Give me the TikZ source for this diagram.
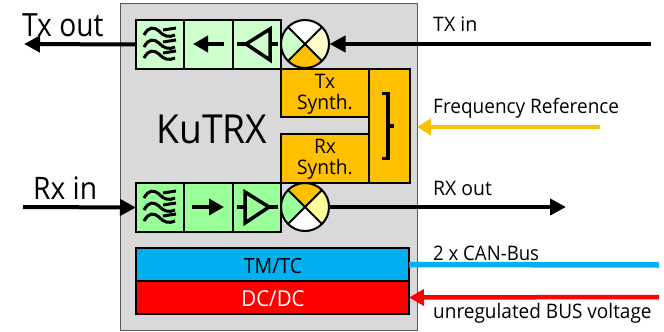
\documentclass[tikz,border=0pt]{standalone}
\usepackage{fontspec}
\setmainfont{Open Sans}
\usetikzlibrary{arrows.meta,calc}
\definecolor{lgreen}{HTML}{CCFFCC}
\definecolor{mgreen}{HTML}{99FF99}
\definecolor{synth}{HTML}{FFC000}
\definecolor{lyellow}{HTML}{FFFFCC}
\definecolor{myellow}{HTML}{FFFF99}
\definecolor{bluebus}{HTML}{00B0F0}
\definecolor{panel}{HTML}{D9D9D9}
\newcommand{\fs}[2]{\fontsize{#1}{#1}\selectfont\addfontfeature{FakeStretch=#2}}
\tikzset{
  panelbox/.style={draw=black!65,fill=panel,line width=1pt,minimum width=297pt,minimum height=327pt,inner sep=0pt},
  blockbox/.style={draw=black,line width=2pt,inner sep=0pt,outer sep=0pt,anchor=north west},
  sym/.style={line width=3.5pt,black},
  bigarrow/.style={line width=4pt,-{Triangle[length=16pt,width=16pt]}},
  lab/.style={anchor=base west,inner sep=0pt},
  cont/.style={anchor=base,inner sep=0pt},
}
\newcommand{\wavesym}[2]{%
  \foreach \dy in {-12,0,11}{
    \draw[line width=3pt] ($(#1,#2)+(-16,\dy+3)$) .. controls ($(#1,#2)+(-11,\dy-6)$) and ($(#1,#2)+(-6,\dy-5)$) .. ($(#1,#2)+(-1,\dy-1)$) .. controls ($(#1,#2)+(3,\dy+4)$) and ($(#1,#2)+(9,\dy+6)$) .. ($(#1,#2)+(15,\dy+3)$);
    \draw[line width=3pt] ($(#1,#2)+(3,\dy-2)$) -- ($(#1,#2)+(16,\dy-4)$);
  }
}
\begin{document}
\begin{tikzpicture}[x=1pt,y=-1pt]
\useasboundingbox (0,0) rectangle (664,332);
\fill[white] (0,0) rectangle (664,332);
\node[panelbox] (panel) at (269,166.5) {};

% top chain
\node[blockbox,fill=lgreen,minimum width=48pt,minimum height=49pt] (txf) at (136,20) {};
\node[blockbox,fill=lgreen,minimum width=49pt,minimum height=49pt] (txi) at (184,20) {};
\node[blockbox,fill=lgreen,minimum width=48pt,minimum height=49pt] (txa) at (233,20) {};
% bottom chain
\node[blockbox,fill=mgreen,minimum width=48pt,minimum height=49pt] (rxf) at (136,183) {};
\node[blockbox,fill=mgreen,minimum width=49pt,minimum height=49pt] (rxi) at (184,183) {};
\node[blockbox,fill=mgreen,minimum width=48pt,minimum height=49pt] (rxa) at (233,183) {};

% synth blocks
\node[blockbox,fill=synth,minimum width=88pt,minimum height=48pt] (txs) at (281,69) {};
\node[blockbox,fill=synth,minimum width=88pt,minimum height=49pt] (rxs) at (281,134) {};
\node[blockbox,fill=synth,minimum width=41pt,minimum height=114pt] (refb) at (369,69) {};
\node[cont,font=\fs{20}{0.96}] (txsa) at (325,88) {Tx};
\node[cont,font=\fs{20}{0.96}] (txsb) at (325,109) {Synth.};
\node[cont,font=\fs{20}{0.96}] (rxsa) at (325,153) {Rx};
\node[cont,font=\fs{20}{0.96}] (rxsb) at (325,174) {Synth.};

% bus blocks
\node[blockbox,fill=bluebus,minimum width=273pt,minimum height=33pt] (tm) at (136,248) {};
\node[blockbox,fill=red,minimum width=273pt,minimum height=33pt] (dc) at (136,281) {};
\node[cont,font=\fs{21}{0.93}] (tmt) at (273,273) {TM/TC};
\node[cont,font=\fs{22}{0.93},text=white] (dct) at (273,306) {DC/DC};

% filter symbols
\wavesym{160}{44}
\wavesym{160}{207}

% isolator arrows
\coordinate (ita) at (224,44); \coordinate (itb) at (193,44);
\coordinate (ira) at (192,207); \coordinate (irb) at (224,207);
\draw[line width=3.5pt,-{Triangle[length=15pt,width=16pt]}] (ita) -- (itb);
\draw[line width=3.5pt,-{Triangle[length=15pt,width=16pt]}] (ira) -- (irb);

% amplifier symbols
\draw[sym,line join=miter] (270,29) -- (270,60) -- (246,44) -- cycle;
\draw[sym] (237,44) -- (246,44);
\draw[sym] (270,44) -- (278,44);
\draw[sym,line join=miter] (245,192) -- (245,223) -- (269,207) -- cycle;
\draw[sym] (237,207) -- (245,207);
\draw[sym] (269,207) -- (278,207);

% top mixer
\node[circle,draw=black,line width=2pt,fill=white,minimum size=47pt,inner sep=0pt] (mixt) at (305,44) {};
\begin{scope}
\clip (305,44) circle[radius=24pt];
\fill[white] (305,44) -- (281,20) -- (329,20) -- cycle;
\fill[lyellow] (305,44) -- (329,20) -- (329,68) -- cycle;
\fill[synth] (305,44) -- (329,68) -- (281,68) -- cycle;
\fill[lgreen] (305,44) -- (281,68) -- (281,20) -- cycle;
\draw[line width=2pt] (281,20) -- (329,68) (329,20) -- (281,68);
\end{scope}
\draw[line width=2pt] (305,44) circle[radius=24pt];

% bottom mixer
\node[circle,draw=black,line width=2pt,fill=white,minimum size=47pt,inner sep=0pt] (mixr) at (305,207) {};
\begin{scope}
\clip (305,207) circle[radius=24pt];
\fill[synth] (305,207) -- (281,183) -- (329,183) -- cycle;
\fill[myellow] (305,207) -- (329,183) -- (329,231) -- cycle;
\fill[white] (305,207) -- (329,231) -- (281,231) -- cycle;
\fill[mgreen] (305,207) -- (281,231) -- (281,183) -- cycle;
\draw[line width=2pt] (281,183) -- (329,231) (329,183) -- (281,231);
\end{scope}
\draw[line width=2pt] (305,207) circle[radius=24pt];

% splitter symbol
\draw[line width=3.5pt] (382,93.5) -- (388,93.5) -- (388,158.5) -- (382,158.5);
\draw[line width=3.5pt] (388,126) -- (394,126);

% free ends
\coordinate (txoutend) at (24,44);
\coordinate (txinstart) at (651,44);
\coordinate (rxinstart) at (23,207);
\coordinate (rxoutend) at (566,207);
\coordinate (refstart) at (600,127);
\coordinate (refend) at (417,127);
\coordinate (canend) at (659,265);
\coordinate (dcstart) at (659,297);

% connectors
\draw[bigarrow] (txf.west) -- (txoutend);
\draw[bigarrow] (txinstart) -- (mixt.east);
\draw[bigarrow] (rxinstart) -- (rxf.west);
\draw[bigarrow] (mixr.east) -- (rxoutend);
\draw[line width=4pt,draw=synth,-{Triangle[length=14pt,width=16pt]}] (refstart) -- (refend);
\draw[line width=5.5pt,draw=bluebus] (tm.east) -- (canend);
\draw[line width=4.5pt,draw=red,-{Triangle[length=15pt,width=16pt]}] (dcstart) -- (dc.east);

% labels
\node[cont,font=\fs{40}{0.93}] (kutrx) at (212,143) {KuTRX};
\node[lab,font=\fs{32}{0.88}] (txout) at (22,36) {Tx out};
\node[lab,font=\fs{31}{0.91}] (rxin) at (33,199) {Rx in};
\node[lab,font=\fs{20}{0.98}] (txinl) at (433,31) {TX in};
\node[lab,font=\fs{20}{0.95}] (refl) at (433,113) {Frequency Reference};
\node[lab,font=\fs{20}{0.97}] (rxoutl) at (433,195) {RX out};
\node[lab,font=\fs{20}{0.93}] (canl) at (433,260) {2 x CAN-Bus};
\node[lab,font=\fs{20}{0.95}] (busl) at (433,318) {unregulated BUS voltage};
\end{tikzpicture}
\end{document}
